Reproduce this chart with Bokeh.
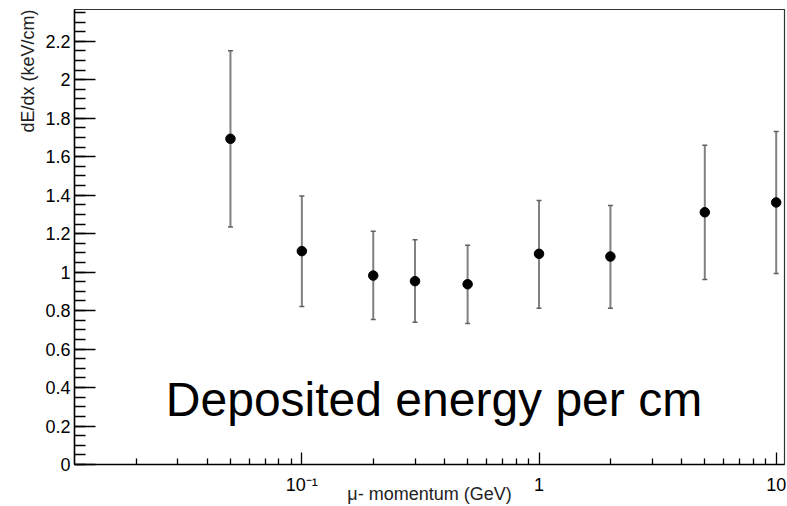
import math
from bokeh.plotting import figure
from bokeh.models import (ColumnDataSource, Whisker, TeeHead, FixedTicker, SingleIntervalTicker,
                          CustomJSTickFormatter, Range1d, Label, Title)
from bokeh.embed import file_html
from bokeh.resources import INLINE

# data
momentum = [0.05, 0.1, 0.2, 0.3, 0.5, 1.0, 2.0, 5.0, 10.0]
dedx = [1.693, 1.109, 0.982, 0.953, 0.937, 1.095, 1.081, 1.311, 1.362]
dedx_upper = [2.150, 1.395, 1.213, 1.168, 1.140, 1.372, 1.346, 1.660, 1.731]
dedx_lower = [1.235, 0.821, 0.754, 0.740, 0.733, 0.812, 0.812, 0.962, 0.993]

x_major = [0.1, 1.0, 10.0]
x_minor = [0.02, 0.03, 0.04, 0.05, 0.06, 0.07, 0.08, 0.09,
           0.2, 0.3, 0.4, 0.5, 0.6, 0.7, 0.8, 0.9,
           2, 3, 4, 5, 6, 7, 8, 9]

x_title = "\u03bc- momentum (GeV)"
y_title = "dE/dx (keV/cm)"
note = "Deposited energy per cm"

XMIN, XMAX = 0.011, 10.84
YMIN, YMAX = 0.0, 2.365

FONT = "Liberation Sans"

src = ColumnDataSource(dict(x=momentum, y=dedx, up=dedx_upper, lo=dedx_lower))

p = figure(width=787, height=506, frame_width=710, frame_height=455,
           x_axis_type="log", output_backend="svg",
           toolbar_location=None, x_range=Range1d(XMIN, XMAX), y_range=Range1d(YMIN, YMAX),
           min_border_left=74, min_border_right=3, min_border_top=9, min_border_bottom=42)
p.xgrid.visible = False
p.ygrid.visible = False
p.background_fill_color = "white"
p.border_fill_color = "white"
p.outline_line_color = "#333333"
p.outline_line_width = 1.2

# error bars
wh = Whisker(source=src, base="x", upper="up", lower="lo", dimension="height",
             line_color="#808080", line_width=2,
             upper_head=TeeHead(size=5, line_color="#606060", line_width=1.5),
             lower_head=TeeHead(size=5, line_color="#606060", line_width=1.5))
p.add_layout(wh)
p.scatter("x", "y", source=src, size=9.5, color="black")

# x axis
xa = p.xaxis[0]
xa.ticker = FixedTicker(ticks=x_major, minor_ticks=x_minor)
xa.formatter = CustomJSTickFormatter(code="""
if (Math.abs(tick - 0.1) < 1e-9) return "10\\u207b\\u00b9";
return String(Math.round(tick*1000)/1000);
""")
xa.major_tick_in = 12
xa.major_tick_out = 0
xa.minor_tick_in = 6
xa.minor_tick_out = 0
xa.axis_line_width = 1.5
xa.major_tick_line_width = 1.3
xa.minor_tick_line_width = 1.3
xa.major_label_text_font = FONT
xa.major_label_text_font_size = "18px"
xa.major_label_standoff = 10
xa.major_label_text_color = "black"
xa.axis_label = x_title
xa.axis_label_text_font = FONT
xa.axis_label_text_font_size = "18px"
xa.axis_label_text_font_style = "normal"
xa.axis_label_text_color = "#222222"
xa.axis_label_standoff = -14

# y axis
ya = p.yaxis[0]
ya.ticker = SingleIntervalTicker(interval=0.2, num_minor_ticks=4)
ya.formatter = CustomJSTickFormatter(code="return String(Math.round(tick*10)/10);")
ya.major_tick_in = 21
ya.major_tick_out = 0
ya.minor_tick_in = 11
ya.minor_tick_out = 0
ya.axis_line_width = 1.5
ya.major_tick_line_width = 1.3
ya.minor_tick_line_width = 1.3
ya.major_label_text_font = FONT
ya.major_label_text_font_size = "18px"
ya.major_label_standoff = 4
ya.major_label_text_color = "black"

# y title, aligned to the top like ROOT
p.add_layout(Title(text=y_title, align="right", text_font=FONT, text_font_size="18px",
                   text_font_style="normal", text_color="#222222", standoff=10), "left")

# annotation
p.add_layout(Label(x=0.0267, y=0.34, text=note, text_align="left",
                   text_baseline="alphabetic", text_font=FONT, text_font_size="48px",
                   text_color="black"))

open("out.html", "w", encoding="utf-8").write(file_html(p, INLINE))
